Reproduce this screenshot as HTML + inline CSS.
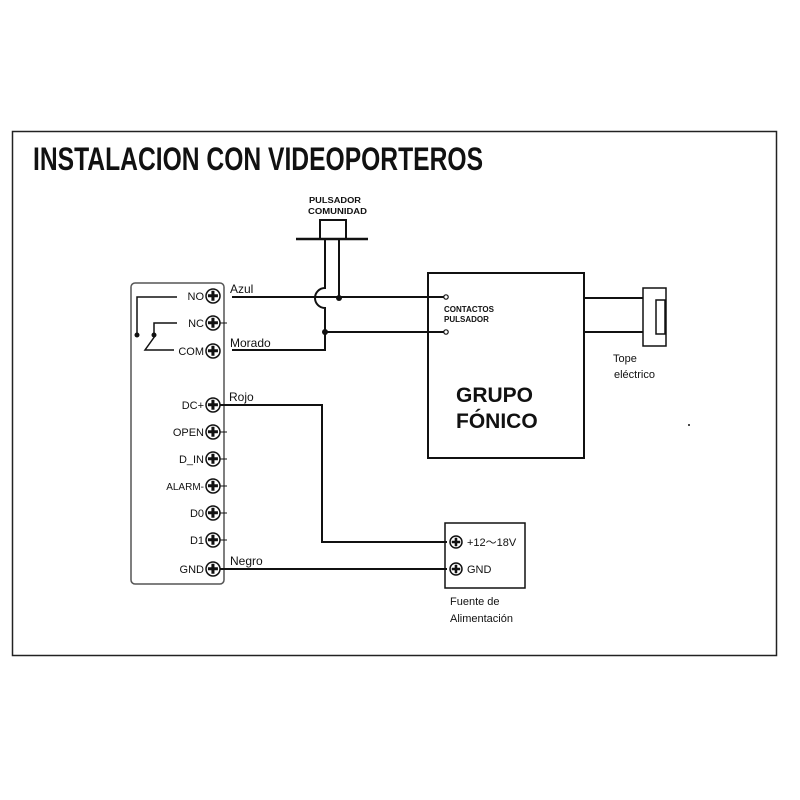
<!DOCTYPE html>
<html><head><meta charset="utf-8"><style>
html,body{margin:0;padding:0;background:#fff}
svg{display:block}
text{font-family:"Liberation Sans",sans-serif;fill:#111}
</style></head><body>
<svg width="800" height="800" viewBox="0 0 800 800" xmlns="http://www.w3.org/2000/svg">
<rect x="0" y="0" width="800" height="800" fill="#fff"/>
<rect x="12.5" y="131.5" width="764" height="524" fill="none" stroke="#222" stroke-width="1.5"/>
<text x="33" y="170" font-size="32" font-weight="bold" textLength="450" lengthAdjust="spacingAndGlyphs">INSTALACION CON VIDEOPORTEROS</text>

<!-- pulsador -->
<text x="309" y="203" font-size="8" font-weight="bold" textLength="52" lengthAdjust="spacingAndGlyphs">PULSADOR</text>
<text x="308" y="214" font-size="8" font-weight="bold" textLength="59" lengthAdjust="spacingAndGlyphs">COMUNIDAD</text>
<g stroke="#111" stroke-width="2" fill="none">
<rect x="320" y="220" width="26" height="19"/>
<line x1="296" y1="239" x2="368" y2="239" stroke-width="2.5"/>
<line x1="339" y1="240" x2="339" y2="298"/>
<path d="M325 240 V288 A10 10 0 0 0 325 308 V350 H232"/>
<line x1="232" y1="297" x2="446" y2="297"/>
<line x1="325" y1="332" x2="446" y2="332"/>
<!-- panel -->
<rect x="131" y="283" width="93" height="301" rx="4" stroke="#555" stroke-width="1.5"/>
<path d="M177 297 H137 V335" stroke-width="1.5"/>
<path d="M177 323 H154 V335" stroke-width="1.5"/>
<path d="M174 350 H145 L155 336" stroke-width="1.5"/>
<!-- rojo -->
<path d="M220 405 H322 V542 H447"/>
<line x1="220" y1="569" x2="447" y2="569"/>
<!-- grupo -->
<rect x="428" y="273" width="156" height="185"/>
<line x1="584" y1="298" x2="643" y2="298"/>
<line x1="584" y1="332" x2="643" y2="332"/>
<rect x="643" y="288" width="23" height="58" stroke-width="1.5"/>
<rect x="656" y="300" width="9" height="34" stroke-width="1.5"/>
<!-- fuente -->
<rect x="445" y="523" width="80" height="65" stroke-width="1.5"/>
</g>
<circle cx="339" cy="298" r="3" fill="#111"/>
<circle cx="325" cy="332" r="3" fill="#111"/>
<circle cx="137" cy="335" r="2.5" fill="#111"/>
<circle cx="154" cy="335" r="2.5" fill="#111"/>
<circle cx="446" cy="297" r="2.2" fill="#fff" stroke="#111" stroke-width="1.2"/>
<circle cx="446" cy="332" r="2.2" fill="#fff" stroke="#111" stroke-width="1.2"/>

<!-- terminals -->
<g font-size="11" fill="#333">
<g id="t">
</g>
</g>
<g stroke="#111" stroke-width="1.5" fill="#fff">
<circle cx="213" cy="296" r="7"/><circle cx="213" cy="323" r="7"/><circle cx="213" cy="351" r="7"/>
<circle cx="213" cy="405" r="7"/><circle cx="213" cy="432" r="7"/><circle cx="213" cy="459" r="7"/>
<circle cx="213" cy="486" r="7"/><circle cx="213" cy="513" r="7"/><circle cx="213" cy="540" r="7"/>
<circle cx="213" cy="569" r="7"/>
<circle cx="456" cy="542" r="6"/><circle cx="456" cy="569" r="6"/>
</g>
<g font-size="13" font-weight="bold" fill="#111" text-anchor="middle">
<text x="213" y="300.5">✚</text><text x="213" y="327.5">✚</text><text x="213" y="355.5">✚</text>
<text x="213" y="409.5">✚</text><text x="213" y="436.5">✚</text><text x="213" y="463.5">✚</text>
<text x="213" y="490.5">✚</text><text x="213" y="517.5">✚</text><text x="213" y="544.5">✚</text>
<text x="213" y="573.5">✚</text>
<text x="456" y="546" font-size="11">✚</text><text x="456" y="573" font-size="11">✚</text>
</g>
<g stroke="#111" stroke-width="1">
<line x1="220" y1="323" x2="227" y2="323"/><line x1="220" y1="432" x2="227" y2="432"/>
<line x1="220" y1="459" x2="227" y2="459"/><line x1="220" y1="486" x2="227" y2="486"/>
<line x1="220" y1="513" x2="227" y2="513"/><line x1="220" y1="540" x2="227" y2="540"/>
</g>
<g font-size="11" text-anchor="end" style="fill:#333">
<text x="204" y="300">NO</text><text x="204" y="327">NC</text><text x="204" y="355">COM</text>
<text x="204" y="409">DC+</text><text x="204" y="436">OPEN</text><text x="204" y="463">D_IN</text>
<text x="204" y="490" font-size="10">ALARM-</text><text x="204" y="517">D0</text><text x="204" y="544">D1</text>
<text x="204" y="573">GND</text>
</g>
<g font-size="12">
<text x="230" y="293">Azul</text>
<text x="230" y="347">Morado</text>
<text x="229" y="401">Rojo</text>
<text x="230" y="565">Negro</text>
<text x="467" y="546" font-size="11">+12～18V</text>
<text x="467" y="573" font-size="11">GND</text>
<text x="450" y="605" font-size="11">Fuente de</text>
<text x="450" y="622" font-size="11">Alimentación</text>
<text x="613" y="362" font-size="11">Tope</text>
<text x="614" y="378" font-size="11">eléctrico</text>
</g>
<text x="444" y="312" font-size="8" font-weight="bold">CONTACTOS</text>
<text x="444" y="322" font-size="8" font-weight="bold">PULSADOR</text>
<text x="456" y="402" font-size="21" font-weight="bold">GRUPO</text>
<text x="456" y="428" font-size="21" font-weight="bold">FÓNICO</text>
<circle cx="689" cy="425" r="1" fill="#111"/>
</svg>
</body></html>
